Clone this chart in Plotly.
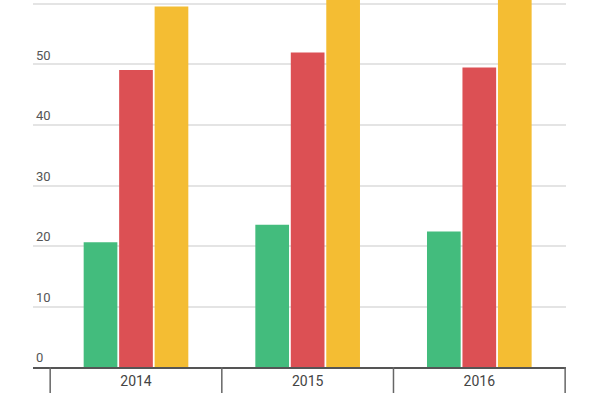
import plotly.graph_objects as go

# 数据
years = ['2014', '2015', '2016']
green_vals = [20.6, 23.5, 22.4]
red_vals = [49.1, 52.0, 49.5]
yellow_vals = [59.6, 66.0, 68.0]

colors = ['#43BC7D', '#DC5054', '#F4BD33']
series = [green_vals, red_vals, yellow_vals]

x_range = [-0.6, 2.505]
# 分类边界位置（每个类别两侧）
boundaries = [i - 0.5 for i in range(len(years) + 1)]

fig = go.Figure()
for vals, c in zip(series, colors):
    fig.add_trace(go.Bar(x=years, y=vals, marker=dict(color=c, line=dict(width=0)),
                         hoverinfo='y'))

# 分类之间的长刻度线（画在 x 轴下方）
tick_shapes = []
for b in boundaries:
    tick_shapes.append(dict(
        type='line', xref='x', yref='paper',
        x0=b, x1=b, y0=0, y1=-26 / 367,
        line=dict(color='#666666', width=1.5),
    ))

fig.update_layout(
    width=600, height=400,
    showlegend=False,
    barmode='group',
    bargap=0.38,
    bargroupgap=0.05,
    plot_bgcolor='white',
    paper_bgcolor='white',
    margin=dict(l=33, r=34, t=0, b=33),
    font=dict(family='Roboto', size=13, color='#555555'),
    xaxis=dict(
        type='category',
        range=x_range,
        showgrid=False,
        showline=True, linecolor='#555555', linewidth=2,
        ticks='',
        tickfont=dict(size=14, color='#444444'),
    ),
    yaxis=dict(
        range=[0, 60.66],
        dtick=10,
        showgrid=True, gridcolor='#e4e4e4', gridwidth=1.5,
        zeroline=False,
        ticklabelposition='inside top',
        tickfont=dict(size=13, color='#555555'),
    ),
    shapes=tick_shapes,
)

# 去掉页面默认边距
fig.write_html("out.html", config={'displayModeBar': False},
               post_script="document.body.style.margin='0';")
